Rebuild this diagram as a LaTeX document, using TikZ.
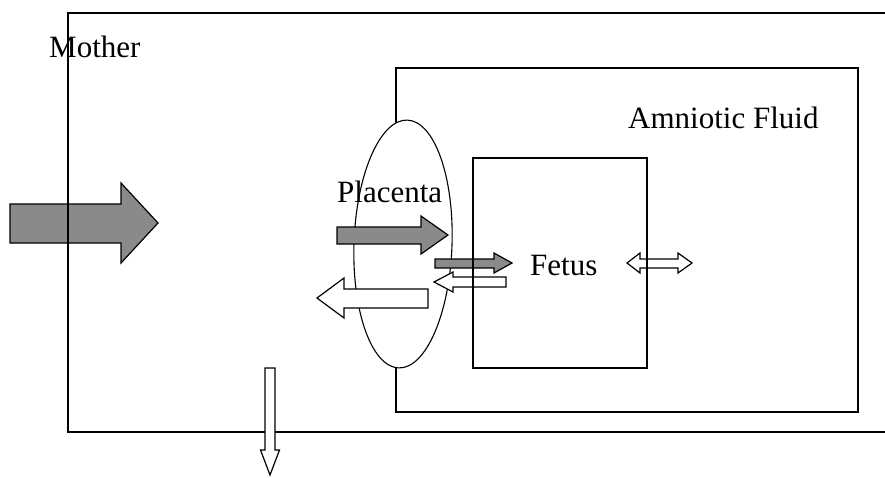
\documentclass[tikz,border=0pt]{standalone}
\usepackage{fontspec}
\setmainfont{Liberation Serif}
\usepackage{xcolor}
\definecolor{FlowGray}{HTML}{8A8A8A}

\begin{document}
\begin{tikzpicture}[x=1pt,y=-1pt,
  boxline/.style={black,line width=1.4pt},
  grayarrow/.style={draw=black,fill=FlowGray,line width=1.2pt,line join=miter},
  whitearrow/.style={draw=black,fill=white,line width=1.2pt,line join=miter},
  tag/.style={anchor=base west,inner sep=0pt,font=\fontsize{31}{36}\selectfont}]
\useasboundingbox (0,0) rectangle (885,477);
% Compartments are open boxes in pixel units; arrows are plain block outlines.
\filldraw[grayarrow] (10,204) -- (121,204) -- (121,183) -- (158,223) -- (121,263) -- (121,243) -- (10,243) -- cycle;
\draw[boxline] (885,13) -- (68,13) -- (68,432) -- (885,432);
\draw[boxline] (396,68) rectangle (858,412);
\filldraw[black,fill=white,line width=1.1pt,rotate around={-2:(403,244)}] (403,244) ellipse [x radius=49,y radius=124];

\filldraw[grayarrow] (337,227) -- (421,227) -- (421,216) -- (448,235) -- (421,254) -- (421,244) -- (337,244) -- cycle;
\filldraw[grayarrow] (435,259) -- (494,259) -- (494,253) -- (512,263) -- (494,273) -- (494,268) -- (435,268) -- cycle;
\filldraw[whitearrow] (506,277) -- (453,277) -- (453,272) -- (434,282) -- (453,292) -- (453,287) -- (506,287) -- cycle;
\filldraw[whitearrow] (428,289) -- (344,289) -- (344,278) -- (317,298) -- (344,318) -- (344,308) -- (428,308) -- cycle;
\filldraw[whitearrow] (640,259) -- (678,259) -- (678,253) -- (692,263) -- (678,273) -- (678,268) -- (640,268) -- (640,273) -- (627,263) -- (640,253) -- cycle;

\draw[boxline] (473,158) rectangle (647,368);
\filldraw[whitearrow] (265,368) -- (265,450) -- (260.5,450) -- (270,475) -- (279.5,450) -- (275,450) -- (275,368) -- cycle;

\node[tag] (mother) at (49,57) {Mother};
\node[tag] (fluid) at (628,128) {Amniotic Fluid};
\node[tag] (placenta) at (337,202) {Placenta};
\node[tag] (fetus) at (530,275) {Fetus};
\end{tikzpicture}
\end{document}
